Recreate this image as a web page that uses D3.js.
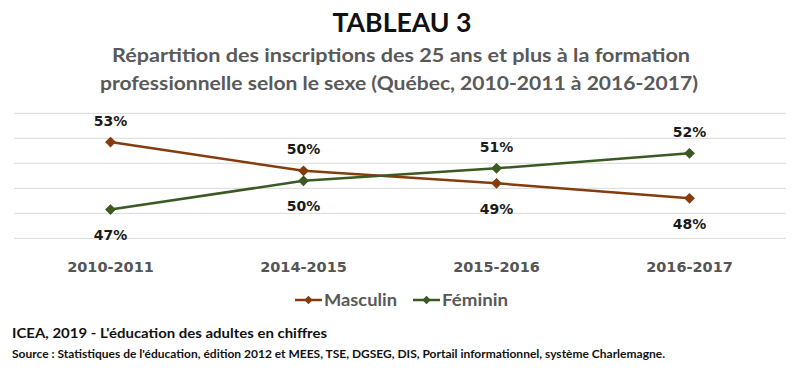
<!DOCTYPE html>
<html>
<head>
<meta charset="utf-8">
<script src="https://cdn.jsdelivr.net/npm/d3@7"></script>
<style>
  body { margin: 0; background: #fff; }
  svg { display: block; }
</style>
</head>
<body>
<svg class="chart" width="800" height="370"></svg>
<script>
// data
const years = ['2010-2011', '2014-2015', '2015-2016', '2016-2017'];
const masculin = [52.7, 50.4, 49.4, 48.2];
const feminin = [47.3, 49.6, 50.6, 51.8];
const gridTicks = [45, 47, 49, 51, 53, 55];

const svg = d3.select('svg.chart');
const calibri = 'Lato, "Open Sans", sans-serif';
const verdana = '"DejaVu Sans", Verdana, sans-serif';

const x = d3.scaleBand().domain(years).range([14, 786]).padding(0);
const y = d3.scaleLinear().domain([45, 55]).range([238.3, 113.3]);
const cx = d => x(d) + x.bandwidth() / 2;

// titles
svg.append('text')
    .attr('x', 402).attr('y', 32)
    .attr('text-anchor', 'middle')
    .attr('font-family', calibri).attr('font-weight', 'bold')
    .attr('font-size', 26).attr('fill', '#111')
    .attr('textLength', 139).attr('lengthAdjust', 'spacingAndGlyphs')
    .text('TABLEAU 3');

svg.append('text')
    .attr('x', 401).attr('y', 62)
    .attr('text-anchor', 'middle')
    .attr('font-family', calibri).attr('font-weight', 'bold')
    .attr('font-size', 19).attr('fill', '#595959')
    .attr('textLength', 578).attr('lengthAdjust', 'spacingAndGlyphs')
    .text('Répartition des inscriptions des 25 ans et plus à la formation');

svg.append('text')
    .attr('x', 399).attr('y', 90)
    .attr('text-anchor', 'middle')
    .attr('font-family', calibri).attr('font-weight', 'bold')
    .attr('font-size', 19).attr('fill', '#595959')
    .attr('textLength', 598).attr('lengthAdjust', 'spacingAndGlyphs')
    .text('professionnelle selon le sexe (Québec, 2010-2011 à 2016-2017)');

// gridlines
svg.append('g')
    .selectAll('line')
    .data(gridTicks)
    .join('line')
    .attr('x1', 14).attr('x2', 786)
    .attr('y1', d => y(d)).attr('y2', d => y(d))
    .attr('stroke', '#d9d9d9').attr('stroke-width', 1);

// x axis labels
const xAxis = svg.append('g')
    .attr('transform', 'translate(0,256)')
    .call(d3.axisBottom(x).tickSize(0).tickPadding(0));
xAxis.select('.domain').remove();
xAxis.selectAll('text')
    .attr('dy', 0).attr('y', 15.5)
    .attr('font-family', verdana).attr('font-weight', 'bold')
    .attr('font-size', 14.5).attr('fill', '#555');

const series = [
    { name: 'Masculin', values: masculin, other: feminin, color: '#843c0c' },
    { name: 'Féminin', values: feminin, other: masculin, color: '#3a5a22' }
];

const line = d3.line()
    .x((d, i) => cx(years[i]))
    .y(d => y(d));

const diamond = d3.symbol().type(d3.symbolDiamond2).size(75);

series.forEach(s => {
    svg.append('path')
        .attr('d', line(s.values))
        .attr('fill', 'none')
        .attr('stroke', s.color)
        .attr('stroke-width', 2.5);

    svg.append('g')
        .selectAll('path')
        .data(s.values)
        .join('path')
        .attr('transform', (d, i) => `translate(${cx(years[i])},${y(d)})`)
        .attr('d', diamond)
        .attr('fill', s.color);

    // labels above when this series is higher, below otherwise
    svg.append('g')
        .selectAll('text')
        .data(s.values)
        .join('text')
        .attr('x', (d, i) => cx(years[i]))
        .attr('y', (d, i) => d > s.other[i] ? y(d) - 16.5 : y(d) + 30.5)
        .attr('text-anchor', 'middle')
        .attr('font-family', verdana).attr('font-weight', 'bold')
        .attr('font-size', 14).attr('fill', '#1a1a1a')
        .text(d => Math.round(d) + '%');
});

// legend
const legend = svg.append('g');
const legendItems = [
    { s: series[0], lx: 295, tx: 324, tw: 73 },
    { s: series[1], lx: 413, tx: 442, tw: 66 }
];
legendItems.forEach(it => {
    legend.append('line')
        .attr('x1', it.lx).attr('x2', it.lx + 27)
        .attr('y1', 300).attr('y2', 300)
        .attr('stroke', it.s.color).attr('stroke-width', 2.5);
    legend.append('path')
        .attr('transform', `translate(${it.lx + 13.5},300)`)
        .attr('d', d3.symbol().type(d3.symbolDiamond2).size(45))
        .attr('fill', it.s.color);
    legend.append('text')
        .attr('x', it.tx).attr('y', 305.5)
        .attr('font-family', calibri).attr('font-weight', 'bold')
        .attr('font-size', 17).attr('fill', '#595959')
        .attr('textLength', it.tw).attr('lengthAdjust', 'spacingAndGlyphs')
        .text(it.s.name);
});

// footer
svg.append('text')
    .attr('x', 12).attr('y', 338)
    .attr('font-family', calibri).attr('font-weight', 'bold')
    .attr('font-size', 13).attr('fill', '#111')
    .attr('textLength', 315).attr('lengthAdjust', 'spacingAndGlyphs')
    .text("ICEA, 2019 - L'éducation des adultes en chiffres");

svg.append('text')
    .attr('x', 12).attr('y', 358)
    .attr('font-family', calibri).attr('font-weight', 'bold')
    .attr('font-size', 11).attr('fill', '#111')
    .attr('textLength', 653).attr('lengthAdjust', 'spacingAndGlyphs')
    .text("Source : Statistiques de l'éducation, édition 2012 et MEES, TSE, DGSEG, DIS, Portail informationnel,  système Charlemagne.");
</script>
</body>
</html>
